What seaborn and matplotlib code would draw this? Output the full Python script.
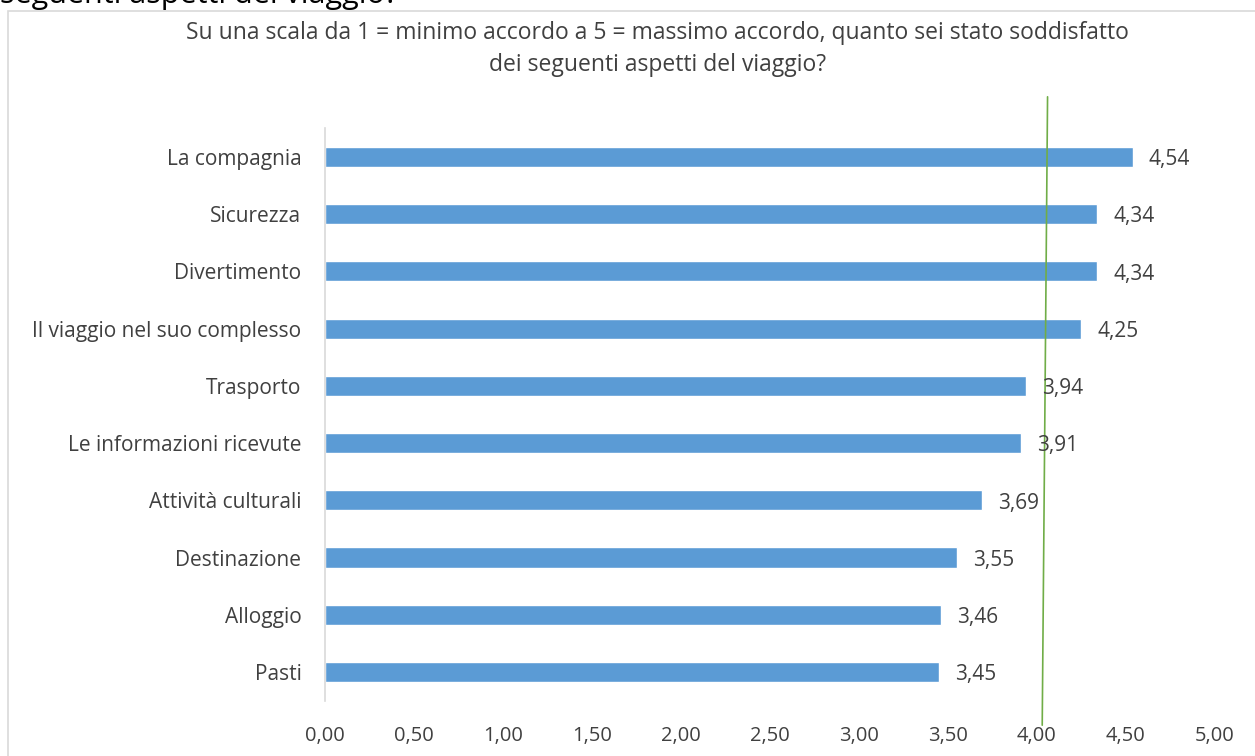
import matplotlib
matplotlib.use('Agg')
import matplotlib.pyplot as plt
import seaborn as sns
import pandas as pd
from matplotlib.patches import Rectangle

sns.set_theme(style='white')
plt.rcParams['font.family'] = ['Open Sans', 'DejaVu Sans']

# dati
aspetti = ['La compagnia', 'Sicurezza', 'Divertimento', 'Il viaggio nel suo complesso',
           'Trasporto', 'Le informazioni ricevute', 'Attività culturali',
           'Destinazione', 'Alloggio', 'Pasti']
punteggi = [4.54, 4.34, 4.34, 4.25, 3.94, 3.91, 3.69, 3.55, 3.46, 3.45]
tick_valori = [0.0, 0.5, 1.0, 1.5, 2.0, 2.5, 3.0, 3.5, 4.0, 4.5, 5.0]
linea_verde = [4.03, 4.06]  # (basso, alto) della linea tracciata a mano

df = pd.DataFrame({'aspetto': aspetti, 'punteggio': punteggi})

fig = plt.figure(figsize=(12.55, 7.56), dpi=100)
ax = fig.add_axes([0.259, 0.0733, 0.709, 0.757])

sns.barplot(data=df, y='aspetto', x='punteggio', orient='h', color='#5B9BD5',
            width=0.35, saturation=1, ax=ax)

ax.set_xlim(0, 5)
ax.set_ylim(len(aspetti) - 0.5, -0.5)
ax.set_xticks(tick_valori)
ax.set_xticklabels([f'{v:.2f}'.replace('.', ',') for v in tick_valori])
ax.tick_params(axis='x', length=0, pad=18, labelsize=14.5, labelcolor='#404040')
ax.tick_params(axis='y', length=0, pad=17, labelsize=15, labelcolor='#404040')
ax.set_xlabel('')
ax.set_ylabel('')
for s in ['top', 'right', 'bottom']:
    ax.spines[s].set_visible(False)
ax.spines['left'].set_color('#d9d9d9')
ax.spines['left'].set_linewidth(1.2)

for i, v in enumerate(punteggi):
    ax.text(v + 0.09, i + 0.05, f'{v:.2f}'.replace('.', ','), va='center', ha='left',
            fontsize=15, color='#404040')

# linea verde (soglia 4)
ax.plot([linea_verde[0], linea_verde[1]], [9.93, -1.05], color='#70AD47',
        linewidth=1.2, clip_on=False)

# titolo
fig.text(0.524, 0.972, 'Su una scala da 1 = minimo accordo a 5 = massimo accordo, quanto sei stato soddisfatto\n'
         'dei seguenti aspetti del viaggio?', ha='center', va='top', fontsize=16.5,
         color='#404040', linespacing=1.42)

# cornice del grafico e testo tagliato in alto
fig.patches.append(Rectangle((8 / 1255, -0.05), 1.2, 1 - 11 / 756 + 0.05,
                             transform=fig.transFigure, fill=False,
                             edgecolor='#d9d9d9', linewidth=1.2))
fig.text(0.0, 0.9955, 'seguenti aspetti del viaggio?', ha='left', va='baseline',
         fontsize=22, color='black')

fig.savefig('out.png', dpi=100)
